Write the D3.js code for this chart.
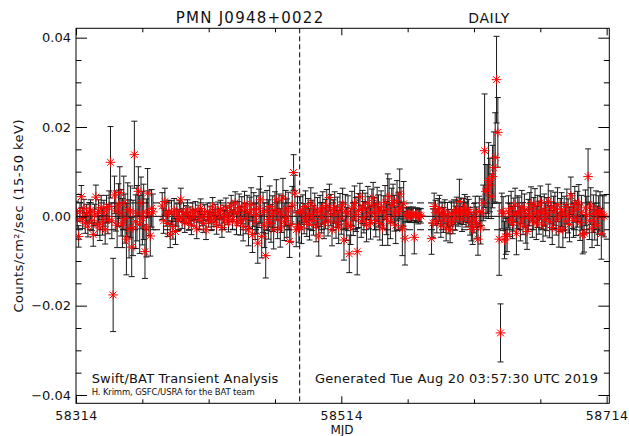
<!DOCTYPE html>
<html><head><meta charset="utf-8">
<script src="https://cdn.jsdelivr.net/npm/d3@7/dist/d3.min.js"></script>
<style>html,body{margin:0;padding:0;background:#fff;}svg{display:block}</style>
</head><body>
<svg id="chart" width="629" height="436"></svg>
<script>
// ---------- text ----------
const titleSource = "PMN J0948+0022";
const titleCadence = "DAILY";
const xLabel = "MJD";
const yLabel = "Counts/cm²/sec (15-50 keV)";
const creditMain = "Swift/BAT Transient Analysis";
const creditSub = "H. Krimm, GSFC/USRA for the BAT team";
const generatedText = "Generated Tue Aug 20 03:57:30 UTC 2019";

// ---------- axes ----------
const xDomain = [58314, 58716];
const yDomain = [-0.04186, 0.0421];
const xMajorTicks = [58314, 58514, 58714];
const xMinorTicks = [58364, 58414, 58464, 58564, 58614, 58664];
const yMajorTicks = [-0.04, -0.02, 0, 0.02, 0.04];
const yMinorTicks = [-0.035, -0.03, -0.025, -0.015, -0.01, -0.005, 0.005, 0.01, 0.015, 0.025, 0.03, 0.035];
const meanLevel = 0;
const sigmaLevel = 0.003;
const markerMJD = 58482.6;

// ---------- data (MJD, rate, 1-sigma error) ----------
const mjdA = [58314,58315,58316,58317,58318,58319,58320,58321,58322,58323,
58324,58325,58326,58327,58328,58329,58330,58331,58332,58333,
58334,58335,58336,58337,58338,58339,58340,58341,58342,58343,
58344,58345,58346,58347,58348,58349,58350,58351,58352,58353,
58354,58355,58356,58357,58358,58359,58360,58361,58362,58363,
58364,58365,58366,58367,58368,58369,58370,58371,58372];
const rateA = [0.0012,-0.0008,-0.0045,0.0010,0.0044,-0.0005,0.0018,-0.0015,0.0006,-0.0022,
0.0009,0.0014,-0.0010,-0.0041,0.0003,0.0043,-0.0018,0.0011,-0.0026,0.0020,
-0.0012,0.0007,-0.0030,0.0016,-0.0006,0.0022,0.0121,-0.0010,-0.0176,0.0048,
0.0012,-0.0020,0.0025,0.0053,0.0008,-0.0015,0.0030,-0.0005,-0.0051,0.0015,
-0.0028,0.0010,-0.0069,-0.0026,0.0138,-0.0012,0.0007,0.0056,-0.0018,0.0030,
-0.0004,0.0010,-0.0079,-0.0026,0.0052,0.0007,-0.0044,0.0018,0.0010];
const errA = [0.0022,0.0020,0.0024,0.0021,0.0025,0.0022,0.0020,0.0023,0.0021,0.0024,
0.0022,0.0023,0.0022,0.0026,0.0024,0.0027,0.0025,0.0026,0.0028,0.0027,
0.0030,0.0029,0.0032,0.0031,0.0033,0.0035,0.0080,0.0040,0.0082,0.0042,
0.0045,0.0050,0.0048,0.0058,0.0052,0.0055,0.0060,0.0055,0.0080,0.0060,
0.0065,0.0058,0.0066,0.0062,0.0075,0.0060,0.0062,0.0055,0.0065,0.0058,
0.0060,0.0062,0.0060,0.0065,0.0055,0.0050,0.0045,0.0042,0.0040];

const mjdB = [58379,58380,58381,58382,58383,58384,58385,58386,58387,58388,
58389,58390,58391,58392,58393,58394,58395,58396,58397,58398,
58399,58400,58401,58402,58403,58404,58405,58406,58407,58408,
58409,58410,58411,58412,58413,58414,58415,58416,58417,58418,
58419,58420,58421,58422,58423,58424,58425,58426,58427,58428,
58429,58430,58431,58432,58433,58434,58435,58436,58437,58438,
58439,58440,58441,58442,58443,58444,58445,58446,58447,58448,
58449,58450,58451,58452,58453,58454,58455,58456,58457,58458,
58459,58460,58461,58462,58463,58464,58465,58466,58467,58468,
58469,58470,58471,58472,58473,58474,58475,58476,58477,58478,
58479,58480,58481,58482];
const rateB = [0.0023,-0.0010,0.0033,0.0005,-0.0016,0.0010,-0.0040,0.0008,-0.0023,0.0014,
-0.0034,0.0003,-0.0008,0.0012,0.0037,-0.0005,0.0009,-0.0014,0.0004,0.0016,
-0.0011,0.0002,-0.0020,0.0010,-0.0003,0.0013,-0.0028,0.0006,-0.0009,0.0018,
-0.0002,-0.0016,0.0008,-0.0030,0.0011,-0.0006,0.0004,-0.0012,0.0021,-0.0004,
0.0007,-0.0019,0.0012,-0.0002,0.0015,-0.0025,0.0005,-0.0008,0.0019,0.0001,
-0.0013,0.0009,0.0024,-0.0007,0.0011,0.0030,-0.0015,0.0006,0.0020,-0.0010,
0.0014,-0.0022,0.0025,-0.0005,0.0012,-0.0030,0.0008,0.0027,-0.0041,0.0015,
-0.0012,0.0004,-0.0060,0.0018,0.0037,-0.0045,0.0009,-0.0020,-0.0088,0.0013,
-0.0007,0.0022,-0.0016,0.0006,-0.0030,0.0015,0.0037,-0.0008,0.0010,-0.0026,
0.0005,0.0041,-0.0012,0.0018,-0.0004,0.0012,-0.0056,-0.0018,0.0025,0.0098,
0.0052,-0.0030,0.0008,-0.0023];
const errB = [0.0030,0.0028,0.0030,0.0027,0.0029,0.0026,0.0030,0.0027,0.0028,0.0026,
0.0029,0.0025,0.0024,0.0023,0.0026,0.0022,0.0021,0.0022,0.0020,0.0021,
0.0020,0.0019,0.0021,0.0020,0.0019,0.0020,0.0022,0.0019,0.0020,0.0021,
0.0019,0.0020,0.0018,0.0022,0.0019,0.0018,0.0019,0.0020,0.0021,0.0019,
0.0020,0.0021,0.0020,0.0019,0.0021,0.0022,0.0020,0.0021,0.0022,0.0020,
0.0022,0.0021,0.0023,0.0022,0.0023,0.0025,0.0026,0.0027,0.0030,0.0032,
0.0030,0.0033,0.0031,0.0034,0.0035,0.0036,0.0035,0.0037,0.0040,0.0038,
0.0040,0.0042,0.0045,0.0043,0.0052,0.0048,0.0045,0.0050,0.0050,0.0045,
0.0044,0.0046,0.0042,0.0040,0.0043,0.0040,0.0045,0.0042,0.0040,0.0043,
0.0041,0.0044,0.0042,0.0040,0.0043,0.0042,0.0036,0.0040,0.0042,0.0040,
0.0040,0.0038,0.0036,0.0035];

const mjdC = [58483,58484,58485,58486,58487,58488,58489,58490,58491,58492,
58493,58494,58495,58496,58497,58498,58499,58500,58501,58502,
58503,58504,58505,58506,58507,58508,58509,58510,58511,58512,
58513,58514,58515,58516,58517,58518,58519,58520,58521,58522,
58523,58524,58525,58526,58527,58528,58529,58530,58531,58532,
58533,58534,58535,58536,58537,58538,58539,58540,58541,58542,
58543,58544,58545,58546,58547,58548,58549,58550,58551,58552,
58553,58554,58555,58556,58557,58558,58559,58560,58561,58562,
58563,58564,58565,58566,58567,58568,58569,58570,58571,58572,
58573,58574];
const rateC = [0.0010,-0.0026,0.0015,-0.0005,0.0022,-0.0012,0.0006,-0.0018,0.0028,0.0002,
-0.0009,0.0017,-0.0021,0.0008,-0.0044,0.0012,-0.0003,0.0019,-0.0015,0.0005,
0.0024,-0.0010,0.0042,0.0014,-0.0030,0.0003,0.0020,-0.0013,0.0009,-0.0024,
0.0016,-0.0004,0.0026,-0.0053,0.0011,-0.0017,0.0007,-0.0084,-0.0023,0.0018,
-0.0006,0.0029,0.0004,-0.0079,0.0013,0.0044,-0.0011,0.0021,-0.0002,0.0016,
-0.0019,0.0030,0.0008,-0.0014,0.0023,0.0041,0.0006,-0.0009,0.0027,0.0012,
-0.0016,0.0019,-0.0026,0.0009,0.0031,-0.0004,0.0015,0.0044,-0.0012,0.0024,
0.0030,0.0007,-0.0020,0.0035,0.0011,0.0050,0.0019,-0.0028,0.0028,-0.0049,
0.0004,0.0002,0.0005,0.0001,0.0003,0.0006,-0.0047,0.0002,0.0004,-0.0001,
0.0003,0.0001];
const errC = [0.0034,0.0035,0.0033,0.0034,0.0035,0.0033,0.0034,0.0035,0.0036,0.0034,
0.0033,0.0035,0.0036,0.0034,0.0045,0.0035,0.0034,0.0036,0.0035,0.0033,
0.0036,0.0034,0.0030,0.0035,0.0036,0.0034,0.0035,0.0036,0.0034,0.0037,
0.0035,0.0036,0.0037,0.0045,0.0038,0.0037,0.0039,0.0042,0.0040,0.0038,
0.0037,0.0039,0.0038,0.0052,0.0038,0.0030,0.0036,0.0037,0.0035,0.0036,
0.0038,0.0037,0.0036,0.0037,0.0038,0.0035,0.0036,0.0037,0.0038,0.0036,
0.0037,0.0038,0.0039,0.0037,0.0038,0.0037,0.0080,0.0040,0.0038,0.0039,
0.0042,0.0040,0.0041,0.0045,0.0043,0.0056,0.0045,0.0060,0.0050,0.0060,
0.0016,0.0015,0.0016,0.0015,0.0016,0.0015,0.0037,0.0016,0.0015,0.0016,
0.0015,0.0016];

const mjdD = [58582,58583,58584,58585,58586,58587,58588,58589,58590,58591,
58592,58593,58594,58595,58596,58597,58598,58599,58600,58601,
58602,58603,58604,58605,58606,58607,58608,58609,58610,58611,
58612,58613,58614,58615,58616,58617,58618,58619,58620,58621,
58622,58623,58624,58625,58626,58627,58628,58629,58630,58631,
58632,58633,58634];
const rateD = [-0.0050,-0.0015,0.0022,0.0008,-0.0010,0.0012,0.0018,-0.0019,0.0005,-0.0008,
0.0010,-0.0026,0.0003,-0.0012,-0.0030,0.0006,-0.0012,0.0009,-0.0004,0.0015,
0.0007,0.0033,0.0012,-0.0006,0.0011,0.0019,0.0004,0.0015,0.0008,-0.0011,
-0.0023,-0.0029,-0.0004,0.0010,-0.0014,-0.0051,0.0011,-0.0026,0.0009,0.0030,
0.0147,0.0056,0.0061,0.0080,0.0070,0.0045,0.0089,0.0109,0.0132,0.0306,
0.0188,-0.0051,-0.0261];
const errD = [0.0035,0.0032,0.0030,0.0028,0.0027,0.0028,0.0029,0.0028,0.0027,0.0028,
0.0027,0.0029,0.0028,0.0027,0.0029,0.0028,0.0027,0.0028,0.0027,0.0028,
0.0029,0.0050,0.0029,0.0028,0.0029,0.0030,0.0028,0.0029,0.0030,0.0031,
0.0032,0.0034,0.0033,0.0035,0.0035,0.0036,0.0034,0.0036,0.0030,0.0040,
0.0127,0.0060,0.0055,0.0085,0.0060,0.0050,0.0070,0.0080,0.0100,0.0097,
0.0078,0.0081,0.0065];

const mjdE = [58635,58636,58637,58638,58639,58640,58641,58642,58643,58644,
58645,58646,58647,58648,58649,58650,58651,58652,58653,58654,
58655,58656,58657,58658,58659,58660,58661,58662,58663,58664,
58665,58666,58667,58668,58669,58670,58671,58672,58673,58674,
58675,58676,58677,58678,58679,58680,58681,58682,58683,58684,
58685,58686,58687,58688,58689,58690,58691,58692,58693,58694,
58695,58696,58697,58698,58699,58700,58701,58702,58703,58704,
58705,58706,58707,58708,58709,58710,58711,58712];
const rateE = [0.0012,0.0006,-0.0053,-0.0045,-0.0041,0.0010,-0.0008,0.0018,-0.0014,0.0004,
0.0025,-0.0038,0.0009,0.0007,-0.0017,0.0021,-0.0005,0.0013,-0.0022,-0.0034,
0.0002,0.0016,0.0028,-0.0010,0.0006,0.0024,-0.0015,0.0011,-0.0003,0.0030,
0.0008,-0.0019,0.0014,-0.0007,0.0005,0.0033,-0.0012,0.0020,-0.0025,0.0009,
0.0017,-0.0006,0.0026,-0.0030,0.0003,0.0015,-0.0030,0.0007,-0.0011,0.0022,
0.0001,-0.0018,0.0046,0.0012,-0.0009,0.0027,-0.0004,0.0016,0.0030,-0.0014,
0.0008,-0.0041,-0.0038,0.0019,0.0004,0.0089,-0.0010,0.0023,-0.0027,0.0006,
-0.0012,0.0014,-0.0021,0.0003,0.0011,-0.0039,0.0003,0.0000];
const errE = [0.0040,0.0038,0.0042,0.0040,0.0038,0.0036,0.0037,0.0038,0.0036,0.0037,
0.0038,0.0048,0.0037,0.0036,0.0038,0.0037,0.0036,0.0037,0.0038,0.0040,
0.0036,0.0037,0.0038,0.0037,0.0036,0.0038,0.0037,0.0036,0.0037,0.0038,
0.0036,0.0037,0.0036,0.0037,0.0037,0.0039,0.0036,0.0037,0.0038,0.0036,
0.0037,0.0036,0.0038,0.0039,0.0037,0.0038,0.0040,0.0038,0.0037,0.0039,
0.0038,0.0039,0.0042,0.0039,0.0038,0.0040,0.0039,0.0040,0.0041,0.0040,
0.0039,0.0043,0.0042,0.0040,0.0041,0.0062,0.0042,0.0041,0.0043,0.0042,
0.0041,0.0043,0.0044,0.0043,0.0044,0.0057,0.0045,0.0046];

// ---------- build ----------
const mjd = [...mjdA, ...mjdB, ...mjdC, ...mjdD, ...mjdE];
const rate = [...rateA, ...rateB, ...rateC, ...rateD, ...rateE];
const err = [...errA, ...errB, ...errC, ...errD, ...errE];
const points = mjd.map((m, i) => ({m: m, r: rate[i], e: err[i]}));

const svg = d3.select("#chart");
const L = 76, R = 609.3, T = 28.3, B = 403.3;
const font = "DejaVu Sans, Liberation Sans, sans-serif";
const x = d3.scaleLinear().domain(xDomain).range([L, R]);
const y = d3.scaleLinear().domain(yDomain).range([B, T]);

svg.append("rect").attr("width", 629).attr("height", 436).attr("fill", "#fff");
svg.append("defs").append("clipPath").attr("id", "plotclip")
  .append("rect").attr("x", L).attr("y", T).attr("width", R - L).attr("height", B - T);
const plot = svg.append("g").attr("clip-path", "url(#plotclip)");

// reference lines
plot.append("line").attr("x1", L).attr("x2", R)
  .attr("y1", y(meanLevel)).attr("y2", y(meanLevel))
  .attr("stroke", "#000").attr("stroke-width", 1);
[meanLevel + sigmaLevel, meanLevel - sigmaLevel].forEach(v => {
  plot.append("line").attr("x1", L).attr("x2", R).attr("y1", y(v)).attr("y2", y(v))
    .attr("stroke", "#000").attr("stroke-width", 1).attr("stroke-dasharray", "7,4");
});
plot.append("line").attr("x1", x(markerMJD)).attr("x2", x(markerMJD)).attr("y1", T).attr("y2", B)
  .attr("stroke", "#000").attr("stroke-width", 1).attr("stroke-dasharray", "5,3");

// error bars
plot.append("g").attr("stroke", "#1a1a1a").attr("stroke-width", 1).attr("fill", "none")
  .selectAll("path").data(points).join("path")
  .attr("d", d => {
    const cx = x(d.m), y1 = y(d.r + d.e), y2 = y(d.r - d.e);
    return `M${cx},${y1}V${y2}M${cx - 3},${y1}H${cx + 3}M${cx - 3},${y2}H${cx + 3}`;
  });

// asterisks
plot.append("g").attr("stroke", "#ff0000").attr("stroke-width", 1).attr("fill", "none")
  .selectAll("path").data(points).join("path")
  .attr("transform", d => `translate(${x(d.m)},${y(d.r)})`)
  .attr("d", "M-4.8,0H4.8M0,-4.8V4.8M-3.4,-3.4L3.4,3.4M-3.4,3.4L3.4,-3.4");

// axes
function styleAxis(g, size) {
  g.attr("font-family", font).attr("font-size", size || 13);
  g.select(".domain").remove();
  g.selectAll(".tick line").attr("stroke", "#000");
  g.selectAll(".tick text").attr("fill", "#111");
}
const fmt = d3.format(".2f");
svg.append("g").attr("transform", `translate(${L},0)`)
  .call(d3.axisLeft(y).tickValues(yMajorTicks).tickSize(-11).tickPadding(5).tickFormat(fmt)).call(styleAxis);
svg.append("g").attr("transform", `translate(${L},0)`)
  .call(d3.axisLeft(y).tickValues(yMinorTicks).tickSize(-5.5).tickFormat("")).call(styleAxis);
svg.append("g").attr("transform", `translate(${R},0)`)
  .call(d3.axisRight(y).tickValues(yMajorTicks).tickSize(-11).tickFormat("")).call(styleAxis);
svg.append("g").attr("transform", `translate(${R},0)`)
  .call(d3.axisRight(y).tickValues(yMinorTicks).tickSize(-5.5).tickFormat("")).call(styleAxis);
const bx = svg.append("g").attr("transform", `translate(0,${B})`)
  .call(d3.axisBottom(x).tickValues(xMajorTicks).tickSize(-7).tickFormat(d3.format("d")))
  .call(g => styleAxis(g, 12.5));
bx.selectAll(".tick text").attr("dy", null).attr("y", 17.2).attr("letter-spacing", 0.6);
svg.append("g").attr("transform", `translate(0,${B})`)
  .call(d3.axisBottom(x).tickValues(xMinorTicks).tickSize(-4).tickFormat("")).call(styleAxis);
svg.append("g").attr("transform", `translate(0,${T})`)
  .call(d3.axisTop(x).tickValues(xMajorTicks).tickSize(-7).tickFormat("")).call(styleAxis);
svg.append("g").attr("transform", `translate(0,${T})`)
  .call(d3.axisTop(x).tickValues(xMinorTicks).tickSize(-4).tickFormat("")).call(styleAxis);

// frame
svg.append("rect").attr("x", L).attr("y", T).attr("width", R - L).attr("height", B - T)
  .attr("fill", "none").attr("stroke", "#000").attr("stroke-width", 1);

// texts
function txt(s, px, py, size, opts = {}) {
  const t = svg.append("text").attr("x", px).attr("y", py).attr("font-family", font)
    .attr("font-size", size).attr("fill", "#111").text(s);
  if (opts.anchor) t.attr("text-anchor", opts.anchor);
  if (opts.len) t.attr("textLength", opts.len).attr("lengthAdjust", "spacing");
  if (opts.weight) t.attr("font-weight", opts.weight);
  if (opts.rotate) t.attr("transform", `rotate(-90,${px},${py})`);
  return t;
}
txt(titleSource, 175.7, 22.7, 15, {len: 147.5});
txt(titleCadence, 468.3, 22.7, 14, {len: 41});
txt(xLabel, 342, 433.6, 12, {anchor: "middle"});
txt(yLabel, 23, 216, 13, {anchor: "middle", rotate: true, len: 193});
txt(creditMain, 91.7, 382.7, 13, {len: 186.6});
txt(creditSub, 91.7, 395, 8.5, {len: 163});
txt(generatedText, 315, 382.7, 13, {len: 283});
</script>
</body></html>
